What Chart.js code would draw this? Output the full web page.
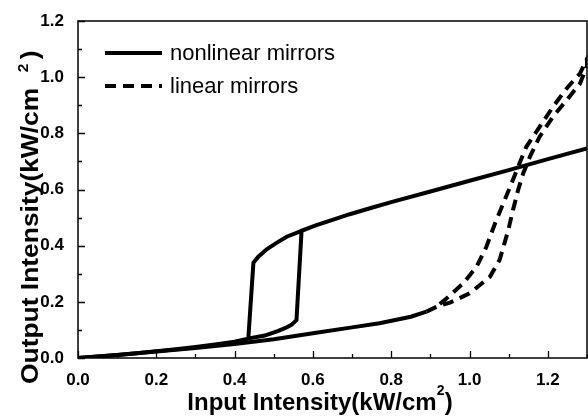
<!DOCTYPE html>
<html>
<head>
<meta charset="utf-8">
<script src="https://cdn.jsdelivr.net/npm/chart.js@4"></script>
<style>
  html, body { margin: 0; padding: 0; background: #fff; }
  canvas { display: block; }
</style>
</head>
<body>
<canvas id="chartLoop" width="588" height="417"></canvas>
<script>
// tick values
const xTicks = [0.0, 0.2, 0.4, 0.6, 0.8, 1.0, 1.2];
const yTicks = [0.0, 0.2, 0.4, 0.6, 0.8, 1.0, 1.2];

// nonlinear mirrors: lower branch up, jump, upper branch out to 1.3, back along upper, drop down
const nonlinearX = [0, 0.05, 0.1, 0.15, 0.2, 0.25, 0.3, 0.35, 0.4, 0.437, 0.477, 0.51, 0.53, 0.545, 0.558,
  0.571, 0.609, 0.652, 0.694, 0.75, 0.8, 0.9, 1.0, 1.1, 1.2, 1.3,
  1.2, 1.1, 1.0, 0.9, 0.8, 0.75, 0.694, 0.652, 0.609, 0.571, 0.533, 0.507, 0.482, 0.46, 0.448, 0.435];
const nonlinearY = [0, 0.005, 0.011, 0.017, 0.024, 0.031, 0.039, 0.048, 0.058, 0.07, 0.08, 0.096, 0.107, 0.118, 0.135,
  0.453, 0.473, 0.493, 0.512, 0.535, 0.555, 0.593, 0.631, 0.669, 0.708, 0.746,
  0.708, 0.669, 0.631, 0.593, 0.555, 0.535, 0.512, 0.493, 0.473, 0.453, 0.432, 0.41, 0.387, 0.36, 0.339, 0.07];

// linear mirrors: lower curve, right branch up, left branch back down
const linearX = [0, 0.1, 0.2, 0.3, 0.4, 0.5, 0.6, 0.7, 0.77, 0.85, 0.89, 0.92,
  0.95, 1.0, 1.052, 1.077, 1.099, 1.111, 1.124, 1.137, 1.154, 1.179, 1.213, 1.248, 1.282, 1.3,
  1.3, 1.282, 1.248, 1.213, 1.179, 1.145, 1.124, 1.107, 1.086, 1.065, 1.043, 1.018, 0.984, 0.941, 0.92];
const linearY = [0, 0.011, 0.023, 0.036, 0.05, 0.067, 0.088, 0.109, 0.124, 0.147, 0.165, 0.185,
  0.197, 0.23, 0.289, 0.35, 0.456, 0.527, 0.598, 0.657, 0.716, 0.788, 0.859, 0.918, 0.977, 1.04,
  1.065, 1.013, 0.96, 0.894, 0.823, 0.752, 0.681, 0.621, 0.55, 0.479, 0.396, 0.325, 0.266, 0.212, 0.188];

const seriesLabels = ['nonlinear mirrors', 'linear mirrors'];
const dashPattern = [11, 7];
const FONT = '"Liberation Sans", Arial, sans-serif';

function toPoints(xs, ys) {
    return xs.map((x, i) => ({ x: x, y: ys[i] }));
}

// frame, inward ticks, legend, axis titles
const decorPlugin = {
    id: 'decor',
    afterDatasetsDraw(chart) {
        const ctx = chart.ctx;
        const area = chart.chartArea;
        const xs = chart.scales.x;
        const ys = chart.scales.y;
        ctx.save();
        ctx.strokeStyle = '#000';
        ctx.lineWidth = 1.5;
        ctx.strokeRect(area.left, area.top, area.right - area.left, area.bottom - area.top);
        ctx.lineWidth = 1.3;
        ctx.beginPath();
        for (let v = 0; v <= 1.301; v += 0.1) {
            const px = Math.round(xs.getPixelForValue(v)) + 0.5;
            const major = Math.round(v * 10) % 2 === 0;
            ctx.moveTo(px, area.bottom);
            ctx.lineTo(px, area.bottom - (major ? 7 : 4));
        }
        for (let v = 0; v <= 1.201; v += 0.1) {
            const py = Math.round(ys.getPixelForValue(v)) + 0.5;
            const major = Math.round(v * 10) % 2 === 0;
            ctx.moveTo(area.left, py);
            ctx.lineTo(area.left + (major ? 7 : 4), py);
        }
        ctx.stroke();
        ctx.restore();
    },
    afterDraw(chart) {
        const ctx = chart.ctx;
        ctx.save();
        ctx.fillStyle = '#000';
        ctx.strokeStyle = '#000';
        // legend
        ctx.font = '22px ' + FONT;
        ctx.textBaseline = 'middle';
        ctx.lineWidth = 4;
        const rows = [53, 86];
        chart.data.datasets.forEach((ds, i) => {
            ctx.setLineDash(i === 0 ? [] : dashPattern);
            ctx.beginPath();
            ctx.moveTo(105, rows[i]);
            ctx.lineTo(162, rows[i]);
            ctx.stroke();
            ctx.fillText(ds.label, 170, rows[i] + 1);
        });
        ctx.setLineDash([]);
        // x title
        ctx.textBaseline = 'alphabetic';
        ctx.font = 'bold 24px ' + FONT;
        const xMain = 'Input Intensity(kW/cm';
        const xW = ctx.measureText(xMain + ')').width + 8;
        let xPos = 320 - xW / 2;
        ctx.fillText(xMain, xPos, 410);
        xPos += ctx.measureText(xMain).width;
        ctx.font = 'bold 14px ' + FONT;
        ctx.fillText('2', xPos, 395);
        xPos += 8;
        ctx.font = 'bold 24px ' + FONT;
        ctx.fillText(')', xPos, 410);
        // y title (rotated, slightly stretched like the original)
        ctx.translate(38, 384);
        ctx.rotate(-Math.PI / 2);
        ctx.scale(1.1, 1);
        const yMain = 'Output Intensity(kW/cm';
        ctx.fillText(yMain, 0, 0);
        let yPos = ctx.measureText(yMain).width + 14;
        ctx.font = 'bold 14px ' + FONT;
        ctx.fillText('2', yPos, -10);
        yPos += 12;
        ctx.font = 'bold 24px ' + FONT;
        ctx.fillText(')', yPos, 0);
        ctx.restore();
    }
};

const cvsLoop = document.getElementById('chartLoop');
const chartLoop = new Chart(cvsLoop, {
    type: 'scatter',
    data: {
        datasets: [{
            label: seriesLabels[0],
            data: toPoints(nonlinearX, nonlinearY),
            showLine: true,
            borderColor: '#000',
            borderWidth: 4,
            pointRadius: 0,
            tension: 0
        }, {
            label: seriesLabels[1],
            data: toPoints(linearX, linearY),
            showLine: true,
            borderColor: '#000',
            borderWidth: 4,
            pointRadius: 0,
            tension: 0,
            segment: {
                borderDash: c => (c.p1.parsed.x < 0.9 && c.p0.parsed.x < 0.9) ? [] : dashPattern
            }
        }]
    },
    plugins: [decorPlugin],
    options: {
        responsive: false,
        animation: false,
        layout: { padding: { top: 21, right: 1 } },
        plugins: {
            legend: { display: false },
            tooltip: { enabled: false }
        },
        scales: {
            x: {
                type: 'linear',
                min: 0,
                max: 1.3,
                afterBuildTicks: s => { s.ticks = xTicks.map(v => ({ value: v })); },
                afterFit: s => { s.height = 59; },
                grid: { display: false },
                border: { display: false },
                ticks: {
                    padding: 4,
                    color: '#000',
                    font: { family: FONT, size: 17, weight: 'bold' },
                    callback: v => v.toFixed(1),
                    maxRotation: 0
                }
            },
            y: {
                min: 0,
                max: 1.2,
                afterBuildTicks: s => { s.ticks = yTicks.map(v => ({ value: v })); },
                afterFit: s => { s.width = 78; },
                grid: { display: false },
                border: { display: false },
                ticks: {
                    padding: 6,
                    color: '#000',
                    font: { family: FONT, size: 17, weight: 'bold' },
                    callback: v => v.toFixed(1)
                }
            }
        }
    }
});
</script>
</body>
</html>
